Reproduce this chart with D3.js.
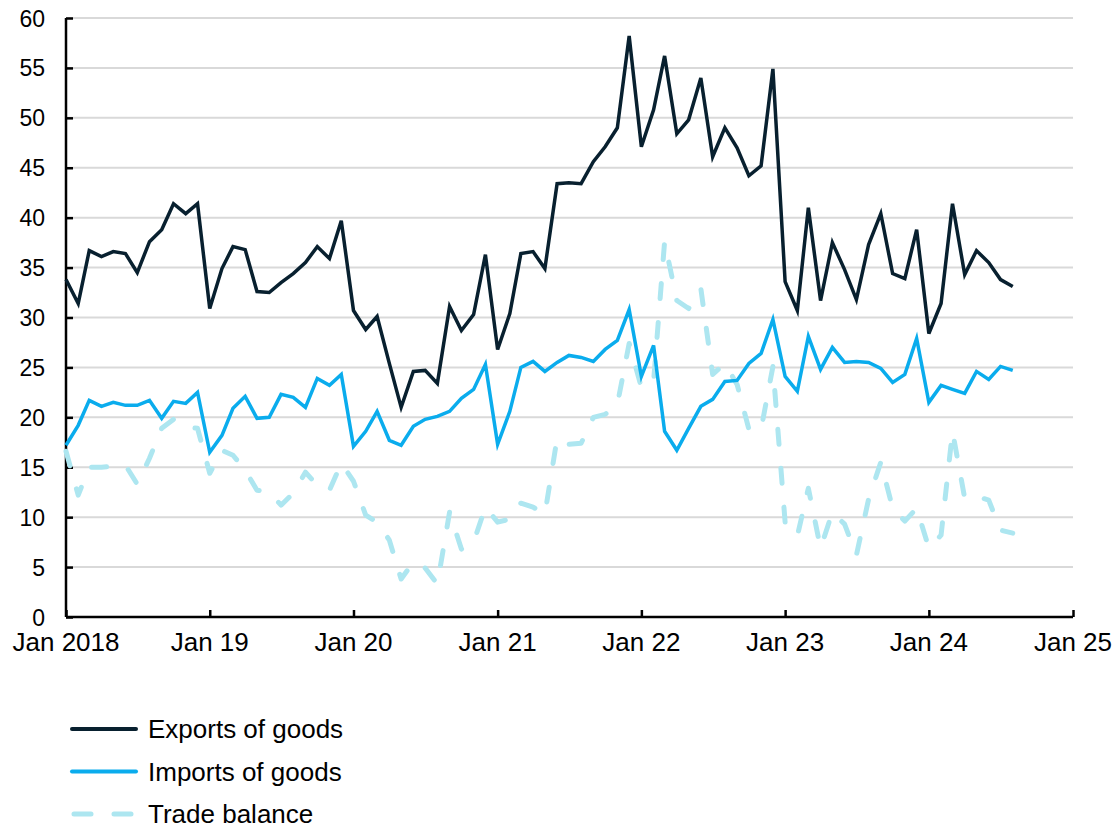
<!DOCTYPE html>
<html>
<head>
<meta charset="utf-8">
<script src="https://cdn.jsdelivr.net/npm/d3@7"></script>
<style>
  body { margin: 0; background: #fff; }
  text { font-family: "Liberation Sans", Arial, sans-serif; fill: #000; }
</style>
</head>
<body>
<div class="chart"></div>
<script>
// monthly values, Jan 2018 .. Aug 2024
var exportsOfGoods = [
  33.8, 31.4, 36.7, 36.1, 36.6, 36.4, 34.5, 37.6, 38.8, 41.4, 40.4, 41.4,
  30.9, 34.9, 37.1, 36.8, 32.6, 32.5, 33.5, 34.4, 35.5, 37.1, 35.9, 39.7,
  30.7, 28.8, 30.1, 25.4, 21.0, 24.6, 24.7, 23.4, 31.1, 28.7, 30.3, 36.3,
  26.8, 30.4, 36.4, 36.6, 34.9, 43.4, 43.5, 43.4, 45.6, 47.1, 49.0, 58.2,
  47.1, 50.8, 56.2, 48.4, 49.8, 54.0, 46.1, 49.0, 47.0, 44.2, 45.2, 54.9,
  33.6, 30.7, 41.0, 31.7, 37.5, 34.8, 31.8, 37.3, 40.4, 34.4, 33.9, 38.8,
  28.4, 31.4, 41.4, 34.3, 36.7, 35.5, 33.8, 33.1
];

var importsOfGoods = [
  17.2, 19.2, 21.7, 21.1, 21.5, 21.2, 21.2, 21.7, 19.9, 21.6, 21.4, 22.5,
  16.5, 18.2, 20.9, 22.1, 19.9, 20.0, 22.3, 22.0, 21.0, 23.9, 23.2, 24.3,
  17.1, 18.6, 20.6, 17.7, 17.2, 19.1, 19.8, 20.1, 20.6, 21.9, 22.8, 25.3,
  17.3, 20.6, 25.0, 25.6, 24.6, 25.5, 26.2, 26.0, 25.6, 26.8, 27.7, 30.8,
  24.1, 27.2, 18.6, 16.7, 18.9, 21.1, 21.8, 23.6, 23.7, 25.4, 26.4, 29.8,
  24.1, 22.6, 28.1, 24.8, 27.0, 25.5, 25.6, 25.5, 24.9, 23.5, 24.3, 27.9,
  21.5, 23.2, 22.8, 22.4, 24.6, 23.8, 25.1, 24.7
];

var tradeBalance = [
  16.6, 12.2, 15.0, 15.0, 15.1, 15.2, 13.3, 15.9, 18.9, 19.8, 19.0, 18.9,
  14.4, 16.7, 16.2, 14.7, 12.7, 12.5, 11.2, 12.4, 14.5, 13.2, 12.7, 15.4,
  13.6, 10.2, 9.5, 7.7, 3.8, 5.5, 4.9, 3.3, 10.5, 6.8, 7.5, 11.0,
  9.5, 9.8, 11.4, 11.0, 10.3, 17.9, 17.3, 17.4, 20.0, 20.3, 21.3, 27.4,
  23.0, 23.6, 37.6, 31.7, 30.9, 32.9, 24.3, 25.4, 23.3, 18.8, 18.8, 25.1,
  9.5, 8.1, 12.9, 6.9, 10.5, 9.3, 6.2, 11.8, 15.5, 10.9, 9.6, 10.9,
  6.9, 8.2, 18.6, 11.9, 12.1, 11.7, 8.7, 8.4
];

var yTicks = [0, 5, 10, 15, 20, 25, 30, 35, 40, 45, 50, 55, 60];
var xTickYears = [2018, 2019, 2020, 2021, 2022, 2023, 2024, 2025];
var xTickLabels = ["Jan 2018", "Jan 19", "Jan 20", "Jan 21", "Jan 22", "Jan 23", "Jan 24", "Jan 25"];

var seriesNames = ["Exports of goods", "Imports of goods", "Trade balance"];
var seriesColors = ["#08202f", "#0aaced", "#ade6f0"];

var svgWidth = 1117;
var svgHeight = 828;

var margin = { top: 18, right: 44, bottom: 211, left: 66 };
var width = svgWidth - margin.left - margin.right;
var height = svgHeight - margin.top - margin.bottom;

var svg = d3.select(".chart")
  .append("svg")
  .attr("width", svgWidth)
  .attr("height", svgHeight);

var chartGroup = svg.append("g")
  .attr("transform", `translate(${margin.left}, ${margin.top})`);

// one date per value, starting Jan 2018
var months = exportsOfGoods.map((d, i) => new Date(2018, i, 1));

var xTimeScale = d3.scaleTime()
  .domain([new Date(2018, 0, 1), new Date(2025, 0, 1)])
  .range([0, width]);

var yLinearScale = d3.scaleLinear()
  .domain([0, 60])
  .range([height, 0]);

// gridlines
chartGroup.append("g")
  .selectAll("line")
  .data(yTicks.filter(d => d > 0))
  .enter()
  .append("line")
  .attr("x1", 0)
  .attr("x2", width)
  .attr("y1", d => yLinearScale(d))
  .attr("y2", d => yLinearScale(d))
  .attr("stroke", "#d9d9d9")
  .attr("stroke-width", 2);

// y axis, ticks point inward
var leftAxis = d3.axisRight(yLinearScale)
  .tickValues(yTicks)
  .tickSize(7)
  .tickFormat("");

var yAxis = chartGroup.append("g").call(leftAxis);
yAxis.select(".domain").attr("d", `M0,0V${height}`);

chartGroup.append("g")
  .selectAll("text")
  .data(yTicks)
  .enter()
  .append("text")
  .attr("x", -21)
  .attr("y", d => yLinearScale(d))
  .attr("dy", "0.37em")
  .attr("text-anchor", "end")
  .attr("font-size", "23px")
  .text(d => d);

// x axis, ticks point up
var xTickDates = xTickYears.map(y => new Date(y, 0, 1));
var bottomAxis = d3.axisTop(xTimeScale)
  .tickValues(xTickDates)
  .tickSize(7)
  .tickFormat("");

var xAxis = chartGroup.append("g")
  .attr("transform", `translate(0, ${height})`)
  .call(bottomAxis);
xAxis.select(".domain").attr("d", `M0,0H${width}`);

chartGroup.append("g")
  .selectAll("text")
  .data(xTickDates)
  .enter()
  .append("text")
  .attr("x", d => xTimeScale(d))
  .attr("y", height + 34)
  .attr("text-anchor", "middle")
  .attr("font-size", "26px")
  .text((d, i) => xTickLabels[i]);

svg.selectAll(".domain, .tick line")
  .attr("stroke", "#000")
  .attr("stroke-width", 2.5);

// lines
var seriesData = [exportsOfGoods, importsOfGoods, tradeBalance];

var lineGen = d3.line()
  .x((d, i) => xTimeScale(months[i]))
  .y(d => yLinearScale(d));

// draw trade balance first so the solid lines sit on top
[2, 0, 1].forEach(function(k) {
  var path = chartGroup.append("path")
    .datum(seriesData[k])
    .attr("fill", "none")
    .attr("stroke", seriesColors[k])
    .attr("d", lineGen);

  if (k === 2) {
    path.attr("stroke-width", 5)
      .attr("stroke-dasharray", "15,24")
      .attr("stroke-linecap", "round")
      .attr("stroke-linejoin", "round");
  }
  else {
    path.attr("stroke-width", 3.5)
      .attr("stroke-linejoin", "miter");
  }
});

// legend
var legendGroup = svg.append("g")
  .attr("transform", "translate(74, 729)");

seriesNames.forEach(function(name, i) {
  var row = legendGroup.append("g")
    .attr("transform", `translate(0, ${i * 42.5})`);

  var sample = row.append("line")
    .attr("x1", 0)
    .attr("x2", 60)
    .attr("y1", 0)
    .attr("y2", 0)
    .attr("stroke", seriesColors[i]);

  if (i === 2) {
    sample.attr("stroke-width", 5)
      .attr("stroke-dasharray", "17,23")
      .attr("stroke-linecap", "round");
  }
  else {
    sample.attr("stroke-width", 4)
      .attr("x1", -2)
      .attr("x2", 62)
      .attr("stroke-linecap", "round");
  }

  row.append("text")
    .attr("x", 74)
    .attr("y", 0)
    .attr("dy", "0.36em")
    .attr("font-size", "26px")
    .text(name);
});
</script>
</body>
</html>
